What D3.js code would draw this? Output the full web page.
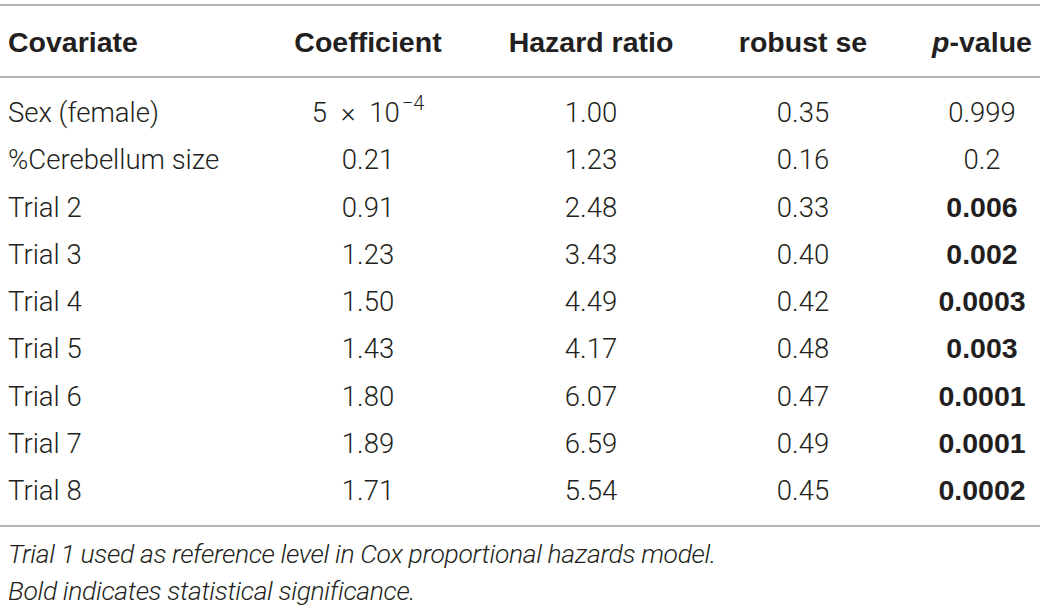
<!DOCTYPE html>
<html>
<head>
<meta charset="utf-8">
<script src="https://cdn.jsdelivr.net/npm/d3@7"></script>
<style>
  html, body { margin: 0; padding: 0; background: #fff; }
  svg { display: block; }
  text { font-family: "Roboto", "Liberation Sans", sans-serif; fill: #231f20; }
  .bold { font-family: "Liberation Sans", "Roboto", sans-serif; font-weight: 700; }
</style>
</head>
<body>
<div id="table"></div>
<script>
// table contents
var headers = ["Covariate", "Coefficient", "Hazard ratio", "robust se", "p-value"];
var covariates = ["Sex (female)", "%Cerebellum size", "Trial 2", "Trial 3", "Trial 4",
                  "Trial 5", "Trial 6", "Trial 7", "Trial 8"];
var coefficients = ["5e-4", "0.21", "0.91", "1.23", "1.50", "1.43", "1.80", "1.89", "1.71"];
var hazardRatios = ["1.00", "1.23", "2.48", "3.43", "4.49", "4.17", "6.07", "6.59", "5.54"];
var robustSe = ["0.35", "0.16", "0.33", "0.40", "0.42", "0.48", "0.47", "0.49", "0.45"];
var pValues = ["0.999", "0.2", "0.006", "0.002", "0.0003", "0.003", "0.0001", "0.0001", "0.0002"];
var footnotes = ["Trial 1 used as reference level in Cox proportional hazards model.",
                 "Bold indicates statistical significance."];

var width = 1040;
var height = 612;
var fontSize = 27.5;
var boldSize = 28.5;

var svg = d3.select("#table")
    .append("svg")
    .attr("width", width)
    .attr("height", height)

// column positions (first column left aligned, others centred)
var x = d3.scaleOrdinal()
    .domain(headers)
    .range([8, 368, 591, 803, 982]);

var anchor = h => h == "Covariate" ? "start" : "middle";

// row baselines
var y = d3.scalePoint()
    .domain(covariates)
    .range([122, 500]);

var rules = [5, 77, 526];
svg.append("g")
    .selectAll("line")
    .data(rules)
    .enter().append("line")
        .attr("x1", 0)
        .attr("x2", width)
        .attr("y1", d => d)
        .attr("y2", d => d)
        .attr("stroke", "#9d9d9d")
        .attr("stroke-width", 1.6)

// header
var head = svg.append("g")
    .selectAll("text")
    .data(headers)
    .enter().append("text")
        .attr("class", "bold")
        .attr("x", d => x(d))
        .attr("y", 52)
        .attr("text-anchor", anchor)
        .attr("font-size", boldSize)

head.each(function(d) {
    var t = d3.select(this);
    if (d == "p-value") {
        t.append("tspan").attr("font-style", "italic").text("p");
        t.append("tspan").text("-value");
    } else {
        t.text(d);
    }
})

var rows = covariates.map((c, i) => ({
    covariate: c,
    cells: [
        {col: headers[0], v: c},
        {col: headers[1], v: coefficients[i]},
        {col: headers[2], v: hazardRatios[i]},
        {col: headers[3], v: robustSe[i]},
        {col: headers[4], v: pValues[i], bold: +pValues[i] < 0.05}
    ]
}));

var rowG = svg.append("g")
    .selectAll("g")
    .data(rows)
    .enter().append("g")
        .attr("transform", d => `translate(0, ${y(d.covariate)})`)

rowG.selectAll("text")
    .data(d => d.cells)
    .enter().append("text")
        .attr("class", d => d.bold ? "bold" : null)
        .attr("x", d => x(d.col))
        .attr("text-anchor", d => anchor(d.col))
        .attr("font-size", d => d.bold ? boldSize : fontSize)
        .attr("font-weight", d => d.bold ? 700 : 300)
        .each(function(d) {
            var t = d3.select(this);
            var m = /^(\d+)e(-?\d+)$/.exec(d.v);
            if (m) {
                // scientific notation: 5 × 10^-4
                t.append("tspan").text(m[1] + "\u2002\u00d7\u2002" + "10");
                t.append("tspan")
                    .attr("font-size", 20)
                    .attr("dx", 2)
                    .attr("dy", -12)
                    .text(m[2].replace("-", "\u2212"));
            } else {
                t.text(d.v);
            }
        })

// footnotes
svg.append("g")
    .selectAll("text")
    .data(footnotes)
    .enter().append("text")
        .attr("x", 8)
        .attr("y", (d, i) => 563 + i * 37)
        .attr("font-size", 26.5)
        .attr("letter-spacing", -0.35)
        .attr("font-style", "italic")
        .attr("font-weight", 300)
        .text(d => d)
</script>
</body>
</html>
